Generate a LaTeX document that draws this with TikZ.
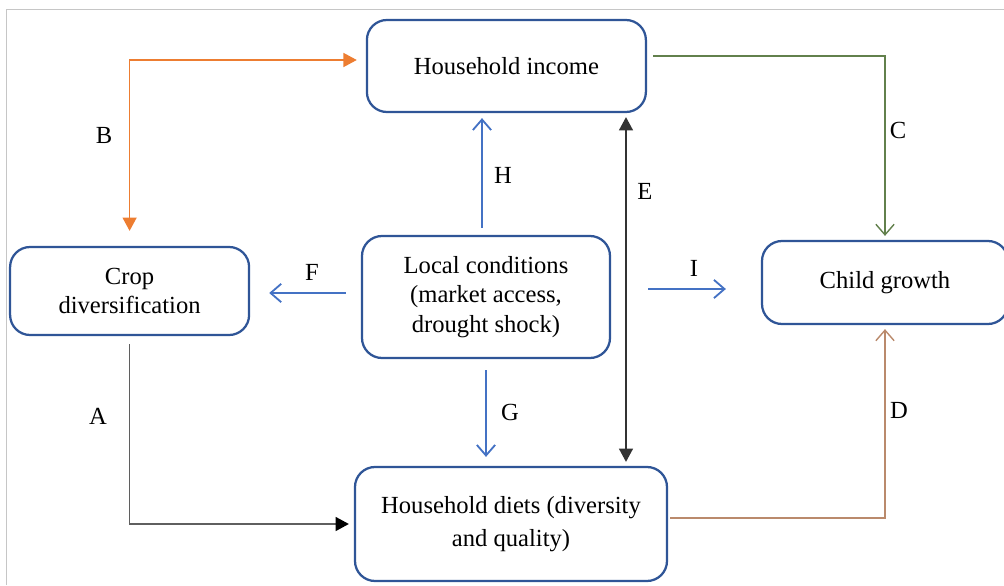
\documentclass[tikz,border=0pt]{standalone}
\usepackage{fontspec}
\setmainfont{Liberation Serif}
\usepackage{tikz}
\usetikzlibrary{arrows.meta, calc}

\definecolor{boxblue}{RGB}{47,85,151}
\definecolor{arrowblue}{RGB}{68,114,196}
\definecolor{borange}{RGB}{237,125,49}
\definecolor{cgreen}{RGB}{98,128,76}
\definecolor{dbrown}{RGB}{186,138,108}
\definecolor{agray}{RGB}{95,95,95}

\begin{document}
\begin{tikzpicture}[
        font=\fontsize{17.5}{21}\selectfont,
        box/.style={draw=boxblue, line width=1.6pt, rounded corners=0.5cm, align=center, fill=white},
        openhead/.style={-{Straight Barb[length=7.5pt, width=13pt]}},
        blueline/.style={draw=arrowblue, line width=1.3pt},
        orangeline/.style={draw=borange, line width=1pt},
        greenline/.style={draw=cgreen, line width=1pt},
        brownline/.style={draw=dbrown, line width=1pt},
        grayline/.style={draw=agray, line width=1.1pt},
        blackline/.style={draw=black!80, line width=1pt}
    ]
        \useasboundingbox (0,0) rectangle (25.1,14.625);
        \draw[gray!45, line width=0.6pt] (0.15,0) -- (0.15,14.4) -- (25.1,14.4);

        \node[box, minimum width=6.975cm, minimum height=2.3cm] (income) at (12.66,12.975) {Household income};
        \node[box, minimum width=5.975cm, minimum height=2.2cm] (crop) at (3.24,7.35) {Crop\\diversification};
        \node[box, minimum width=6.2cm, minimum height=3.05cm] (local) at (12.15,7.2) {Local conditions\\(market access,\\drought shock)};
        \node[box, minimum width=6.15cm, minimum height=2.075cm] (child) at (22.125,7.5625) {Child growth};
        \node[box, minimum width=7.8cm, minimum height=2.85cm] (diets) at (12.775,1.525) {Household diets (diversity\\[3pt]and quality)};

        \coordinate (ex) at (15.65,0);

        \draw[orangeline, {Triangle[length=9.5pt, width=10pt]}-{Triangle[length=9.5pt, width=10pt]}, shorten <=0.375cm, shorten >=0.225cm] (crop.north) |- ([yshift=0.15cm]income.west);
        \draw[grayline, -{Triangle[length=9.5pt, width=10pt, color=black]}, shorten <=0.2cm, shorten >=0.125cm] (crop.south) |- (diets.west);
        \draw[greenline, openhead, shorten <=0.15cm, shorten >=0.1cm] ([yshift=0.25cm]income.east) -| (child.north);
        \draw[brownline, openhead, shorten <=0.05cm, shorten >=0.1cm] ([yshift=0.15cm]diets.east) -| (child.south);
        \draw[blackline, {Triangle[length=9.5pt, width=10pt]}-{Triangle[length=9.5pt, width=10pt]}, shorten <=0.1cm, shorten >=0.1cm] (diets.north -| ex) -- (income.south -| ex);

        \draw[blueline, openhead, shorten <=0.175cm, shorten >=0.125cm] ([xshift=-0.1cm]local.north) -- ([xshift=-0.1cm]local.north |- income.south);
        \draw[blueline, openhead, shorten <=0.375cm, shorten >=0.475cm] ([yshift=0.1cm]local.west) -- ([yshift=0.1cm]local.west -| crop.east);
        \draw[blueline, openhead, shorten <=0.925cm, shorten >=0.875cm] ([yshift=0.2cm]local.east) -- ([yshift=0.2cm]local.east -| child.west);
        \draw[blueline, openhead, shorten <=0.275cm, shorten >=0.225cm] (local.south) -- (local.south |- diets.north);

        \node (lblA) at (2.45,4.225) {A};
        \node (lblB) at (2.6,11.25) {B};
        \node (lblC) at (22.45,11.375) {C};
        \node (lblD) at (22.475,4.375) {D};
        \node (lblE) at (16.125,9.85) {E};
        \node (lblF) at (7.8,7.825) {F};
        \node (lblG) at (12.75,4.325) {G};
        \node (lblH) at (12.575,10.25) {H};
        \node (lblI) at (17.35,7.925) {I};

    \end{tikzpicture}
\end{document}
